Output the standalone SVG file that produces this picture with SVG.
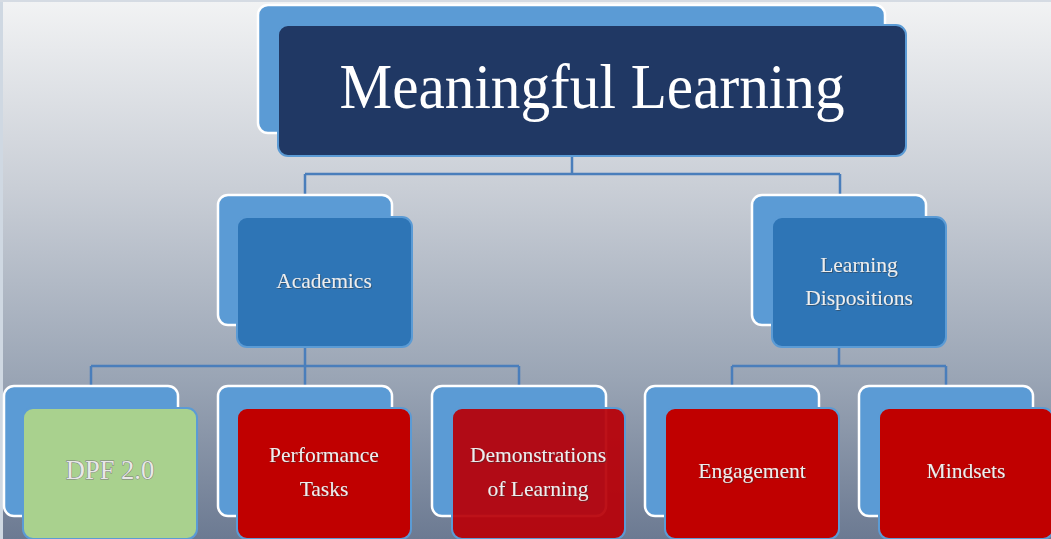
<svg xmlns="http://www.w3.org/2000/svg" width="1051" height="539" viewBox="0 0 1051 539">
<defs>
<linearGradient id="bg" x1="0" y1="0" x2="0" y2="1">
<stop offset="0" stop-color="#f2f3f4"/>
<stop offset="0.35" stop-color="#c9ced6"/>
<stop offset="0.7" stop-color="#9aa5b5"/>
<stop offset="1" stop-color="#6c7a92"/>
</linearGradient>
<filter id="sh" x="-10%" y="-10%" width="120%" height="130%">
<feDropShadow dx="0.8" dy="0.8" stdDeviation="0.6" flood-color="#333" flood-opacity="0.6"/>
</filter>
</defs>
<style>
.back{fill:#5b9bd5;stroke:#ffffff;stroke-width:2.5}
.front{stroke:#5b9bd5;stroke-width:2}
.mid{fill:#2e75b6}
.red{fill:#c00000}
.lbl{font-family:"Liberation Serif",serif;font-size:21.5px;fill:#eeeeee;text-anchor:middle;filter:url(#sh)}
.conn{fill:none;stroke:#4a7ebb;stroke-width:2.5}
</style>
<rect width="1051" height="539" fill="url(#bg)"/>
<rect x="0" y="0" width="3" height="539" fill="#cfd8e2"/>
<rect x="0" y="0" width="1051" height="2" fill="#d5dbe3"/>
<g id="connectors">
<path class="conn" d="M572 156V174M305 174H840M305 174V195M840 174V195"/>
<path class="conn" d="M305 347V366M91 366H519M91 366V386M305 366V386M519 366V386"/>
<path class="conn" d="M839 347V366M732 366H946M732 366V386M946 366V386"/>
</g>
<g id="meaningful-learning">
<rect class="back" x="258" y="5" width="627" height="128" rx="10"/>
<rect class="front" x="278" y="25" width="628" height="131" rx="10" fill="#203864"/>
<text x="592" y="108" font-family="'Liberation Serif',serif" font-size="64" fill="#ffffff" text-anchor="middle" textLength="505" lengthAdjust="spacingAndGlyphs">Meaningful Learning</text>
</g>
<g id="academics">
<rect class="back" x="218" y="195" width="174" height="130" rx="10"/>
<rect class="front mid" x="237" y="217" width="175" height="130" rx="10"/>
<text class="lbl" x="324" y="288">Academics</text>
</g>
<g id="learning-dispositions">
<rect class="back" x="752" y="195" width="174" height="130" rx="10"/>
<rect class="front mid" x="772" y="217" width="174" height="130" rx="10"/>
<text class="lbl" x="859" y="272">Learning</text>
<text class="lbl" x="859" y="305">Dispositions</text>
</g>
<g id="dpf">
<rect class="back" x="4" y="386" width="174" height="130" rx="10"/>
<rect class="front" x="23" y="408" width="174" height="131" rx="10" fill="#a9d18e"/>
<text x="110" y="479" font-family="'Liberation Serif',serif" font-size="26.5" fill="#e8e8e8" stroke="#7a7a7a" stroke-width="0.9" paint-order="stroke" text-anchor="middle">DPF 2.0</text>
</g>
<g id="performance-tasks">
<rect class="back" x="218" y="386" width="174" height="130" rx="10"/>
<rect class="front red" x="237" y="408" width="174" height="131" rx="10"/>
<text class="lbl" x="324" y="462">Performance</text>
<text class="lbl" x="324" y="496">Tasks</text>
</g>
<g id="demonstrations">
<rect class="back" x="432" y="386" width="174" height="130" rx="10"/>
<rect class="front" x="452" y="408" width="173" height="131" rx="10" fill="#b80008" fill-opacity="0.93"/>
<text class="lbl" x="538" y="462">Demonstrations</text>
<text class="lbl" x="538" y="496">of Learning</text>
</g>
<g id="engagement">
<rect class="back" x="645" y="386" width="174" height="130" rx="10"/>
<rect class="front red" x="665" y="408" width="174" height="131" rx="10"/>
<text class="lbl" x="752" y="478">Engagement</text>
</g>
<g id="mindsets">
<rect class="back" x="859" y="386" width="174" height="130" rx="10"/>
<rect class="front red" x="879" y="408" width="174" height="131" rx="10"/>
<text class="lbl" x="966" y="478">Mindsets</text>
</g>
</svg>
